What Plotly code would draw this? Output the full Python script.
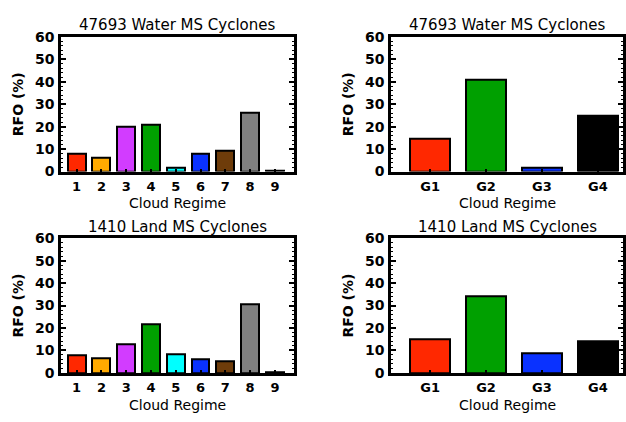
import plotly.graph_objects as go

# Relative frequency of occurrence (%) per cloud regime
regimes = ["1", "2", "3", "4", "5", "6", "7", "8", "9"]
groups = ["G1", "G2", "G3", "G4"]

water_regime_rfo = [8, 6, 20, 21, 1.5, 8, 9, 26, 0.1]
water_group_rfo = [14.5, 41, 1.5, 25]
land_regime_rfo = [8, 6.5, 13, 21.5, 8.5, 6, 5, 30.5, 0.3]
land_group_rfo = [15, 34, 8.7, 14]

regime_colors = ["#ff2800", "#ffaa00", "#d23cff", "#00a000", "#00ffff",
                 "#0a32ff", "#6e3c0a", "#808080", "#808080"]
group_colors = ["#ff2800", "#00a000", "#0a32ff", "#000000"]

titles = ["47693 Water MS Cyclones", "47693 Water MS Cyclones",
          "1410 Land MS Cyclones", "1410 Land MS Cyclones"]

W, H = 626, 422
FONT = "DejaVu Sans"

# panel frames in pixels: (left, right, top, bottom)
frames = [(61, 294, 30, 170), (391, 623, 30, 170),
          (61, 294, 239.3, 379.3), (391, 623, 239.3, 379.3)]

panels = [
    (regimes, water_regime_rfo, regime_colors, [0.37, 9.77]),
    (groups, water_group_rfo, group_colors, [0.30, 4.45]),
    (regimes, land_regime_rfo, regime_colors, [0.37, 9.77]),
    (groups, land_group_rfo, group_colors, [0.30, 4.45]),
]

fig = go.Figure()
annotations = []
for i, ((cats, vals, cols, xr), (l, r, t, b)) in enumerate(zip(panels, frames)):
    n = i + 1
    xa = "x" if n == 1 else f"x{n}"
    ya = "y" if n == 1 else f"y{n}"
    pos = list(range(1, len(cats) + 1))
    fig.add_trace(go.Bar(
        x=pos, y=vals, width=0.72,
        marker=dict(color=cols, line=dict(color="black", width=2)),
        xaxis=xa, yaxis=ya, showlegend=False,
    ))
    xkey = "xaxis" if n == 1 else f"xaxis{n}"
    ykey = "yaxis" if n == 1 else f"yaxis{n}"
    fig.layout[xkey] = dict(
        domain=[l / W, r / W], anchor=ya, range=xr,
        tickvals=pos, ticktext=cats, ticks="inside", ticklen=3,
        tickwidth=1.5, tickcolor="black",
        showline=True, linecolor="black", linewidth=2.5, mirror=True,
        showgrid=False, zeroline=False, ticklabelstandoff=1,
        tickfont=dict(family=FONT, size=13, color="black", weight="bold"),
    )
    fig.layout[ykey] = dict(
        domain=[1 - b / H, 1 - t / H], anchor=xa, range=[0, 60],
        tickvals=[0, 10, 20, 30, 40, 50, 60], ticks="inside", ticklen=5,
        tickwidth=1.5, tickcolor="black",
        minor=dict(dtick=2, ticks="inside", ticklen=2, tickcolor="black",
                   tickwidth=1, showgrid=False),
        showline=True, linecolor="black", linewidth=2.5, mirror="ticks",
        showgrid=False, zeroline=False, ticklabelstandoff=1,
        tickfont=dict(family=FONT, size=14, color="black", weight="bold"),
    )
    cx = (l + r) / 2 / W
    # panel title
    annotations.append(dict(
        text=titles[i], x=cx, y=1 - (t - 12) / H, xref="paper", yref="paper",
        showarrow=False, xanchor="center", yanchor="middle",
        font=dict(family=FONT, size=15, color="black"),
    ))
    # x axis title
    annotations.append(dict(
        text="Cloud Regime", x=cx, y=1 - (b + 33) / H, xref="paper", yref="paper",
        showarrow=False, xanchor="center", yanchor="middle",
        font=dict(family=FONT, size=14, color="black"),
    ))
    # y axis title
    annotations.append(dict(
        text="RFO (%)", x=(l - 43) / W, y=1 - (t + b) / 2 / H,
        xref="paper", yref="paper", textangle=-90,
        showarrow=False, xanchor="center", yanchor="middle",
        font=dict(family=FONT, size=14, color="black", weight="bold"),
    ))

fig.update_layout(
    width=W, height=H, margin=dict(l=0, r=0, t=0, b=0),
    paper_bgcolor="white", plot_bgcolor="white",
    annotations=annotations, bargap=0,
)

fig.write_html("out.html")
